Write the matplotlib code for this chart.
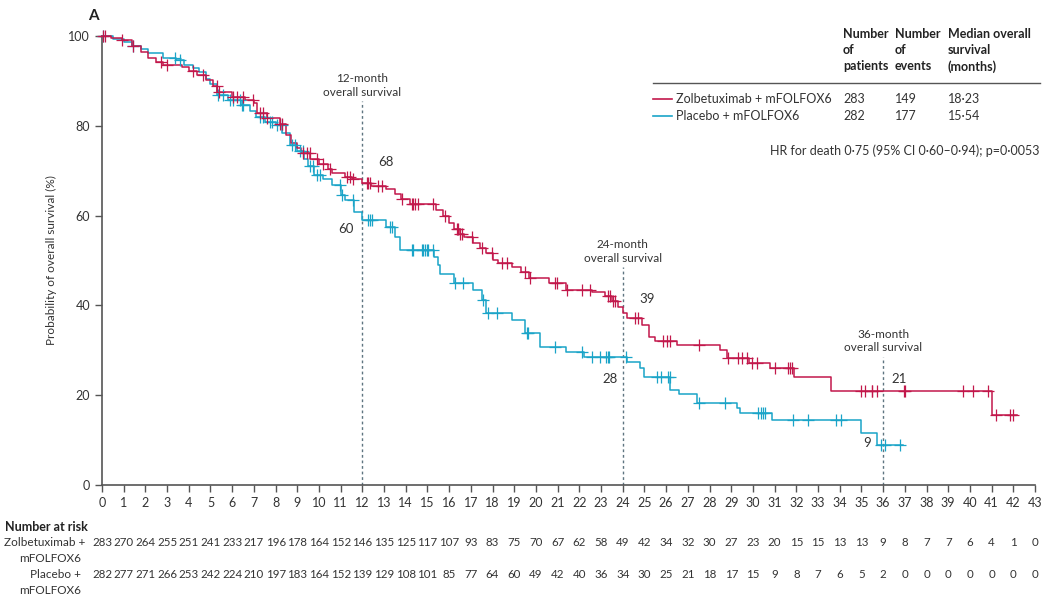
import numpy as np
import matplotlib
matplotlib.use("Agg")
import matplotlib.pyplot as plt
import matplotlib.transforms as mtransforms

plt.rcParams['font.family'] = ['Lato', 'DejaVu Sans']

RED = "#c2184b"
BLUE = "#1aa4c8"
GREY = "#555555"
TXT = "#333333"

# Zolbetuximab + mFOLFOX6 (step times in months, survival %)
zol_t = [0, 0.4, 0.9, 1.4, 1.8, 2.1, 2.5, 2.8, 3.7, 4.0, 4.4, 4.8, 5.1, 5.3, 6.0,
         6.6, 7.0, 7.15, 7.6, 8.2, 8.5, 8.7, 9.0, 9.15, 9.6, 10.0, 10.4, 10.6,
         11.2, 11.5, 12.0, 12.4, 13.1, 13.5, 13.8, 14.2, 15.4, 15.7, 16.0, 16.2,
         16.5, 16.7, 17.1, 17.4, 17.7, 18.0, 18.23, 18.9, 19.3, 19.7, 20.6, 21.4,
         22.6, 23.2, 23.5, 23.8, 24.0, 24.2, 24.9, 25.2, 25.5, 26.5, 28.5, 28.8,
         29.8, 30.8, 31.9, 33.6, 41.0]
zol_s = [100, 99.5, 99.0, 97.8, 96.5, 95.2, 94.2, 93.5, 93.0, 92.3, 91.3, 90.2,
         88.8, 87.6, 86.5, 85.7, 85.0, 82.8, 81.8, 80.5, 78.0, 76.1, 75.0, 73.9,
         72.6, 71.4, 70.3, 69.4, 68.6, 68.1, 67.3, 66.6, 66.0, 64.8, 63.8, 62.5,
         61.3, 59.8, 58.4, 57.1, 56.0, 55.2, 53.8, 52.8, 51.6, 50.1, 49.4, 48.6,
         47.5, 46.0, 44.9, 43.4, 43.0, 42.0, 41.0, 39.7, 38.2, 37.1, 35.6, 33.0,
         32.1, 31.2, 30.1, 28.2, 27.1, 26.0, 24.1, 21.0, 15.6]
zol_end = 42.15
zol_cens = [0.06, 0.14, 0.9, 1.44, 2.74, 2.98, 4.21, 4.67, 5.29, 5.37, 6.05, 6.2,
            6.5, 6.97, 7.28, 7.44, 7.6, 8.2, 8.28, 9.27, 9.43, 9.58, 9.89, 10.2,
            10.5, 11.27, 11.43, 11.58, 12.2, 12.27, 12.35, 12.73, 12.89, 13.81,
            14.27, 14.35, 14.42, 14.58, 15.27, 15.81, 16.34, 16.42, 16.5, 16.57,
            17.04, 17.5, 17.96, 18.42, 18.65, 19.49, 19.72, 20.88, 20.95, 21.41,
            22.1, 22.49, 23.33, 23.41, 23.56, 23.64, 24.56, 24.72, 25.87, 26.02,
            26.2, 27.51, 28.86, 29.32, 29.48, 29.71, 29.94, 30.17, 31.01, 31.63,
            31.71, 31.78, 34.98, 35.16, 35.47, 35.51, 35.73, 36.96, 37.0, 39.69,
            40.15, 40.82, 41.2, 41.84, 42.0]

# Placebo + mFOLFOX6
pla_t = [0, 0.5, 1.0, 1.4, 1.8, 2.1, 2.8, 3.4, 3.8, 4.2, 4.45, 4.8, 5.0, 5.3,
         5.8, 6.4, 6.8, 7.1, 7.5, 8.0, 8.3, 8.65, 9.0, 9.3, 9.5, 9.75, 10.2, 10.6,
         11.0, 11.2, 11.6, 12.0, 13.1, 13.5, 13.75, 15.3, 15.5, 15.6, 16.2, 17.1,
         17.5, 17.7, 18.9, 19.5, 20.2, 21.4, 22.2, 24.2, 24.8, 25.0, 26.2, 26.6,
         27.4, 29.25, 29.4, 30.9, 35.0, 35.7]
pla_s = [100, 99.3, 98.6, 97.8, 97.0, 96.3, 95.2, 94.6, 93.5, 92.8, 92.0, 90.5,
         89.4, 86.8, 85.8, 84.6, 83.2, 82.0, 80.8, 80.1, 78.5, 75.7, 74.3, 72.7,
         71.0, 69.0, 68.2, 66.8, 64.5, 63.5, 60.9, 59.0, 57.5, 55.3, 52.3, 50.8,
         49.0, 47.1, 44.9, 43.4, 41.2, 38.2, 36.7, 33.8, 30.8, 29.7, 28.6, 27.5,
         26.0, 24.0, 21.2, 20.2, 18.2, 17.1, 16.0, 14.5, 11.6, 8.9]
pla_end = 36.93
pla_cens = [0.06, 1.44, 3.36, 3.59, 5.36, 5.59, 5.9, 6.05, 6.36, 6.44, 6.51, 7.28,
            7.43, 7.74, 7.82, 8.05, 8.28, 8.74, 8.89, 9.12, 9.28, 9.59, 9.74,
            9.89, 10.05, 10.97, 11.04, 11.58, 12.27, 12.35, 12.43, 13.27, 13.35,
            14.27, 14.35, 14.73, 14.81, 14.88, 14.96, 15.04, 15.27, 16.27, 16.65,
            17.57, 17.8, 18.19, 19.57, 19.65, 20.88, 22.1, 22.57, 22.95, 23.23,
            23.33, 23.38, 24.15, 25.59, 25.76, 26.1, 26.18, 27.51, 28.71, 30.25,
            30.35, 30.45, 30.55, 31.83, 32.52, 33.82, 34.04, 35.9, 36.08, 36.77]

months = list(range(0, 44))
zol_risk = [283, 270, 264, 255, 251, 241, 233, 217, 196, 178, 164, 152, 146, 135,
            125, 117, 107, 93, 83, 75, 70, 67, 62, 58, 49, 42, 34, 32, 30, 27, 23,
            20, 15, 15, 13, 13, 9, 8, 7, 7, 6, 4, 1, 0]
pla_risk = [282, 277, 271, 266, 253, 242, 224, 210, 197, 183, 164, 152, 139, 129,
            108, 101, 85, 77, 64, 60, 49, 42, 40, 36, 34, 30, 25, 21, 18, 17, 15,
            9, 8, 7, 6, 5, 2, 0, 0, 0, 0, 0, 0, 0]

landmarks = [12, 24, 36]
landmark_top = [85.5, 48.5, 28.5]
zol_landmark = ["68", "39", "21"]
pla_landmark = ["60", "28", "9"]


def surv_at(t, s, x):
    idx = np.searchsorted(np.array(t), np.array(x), side='right') - 1
    return np.array(s)[idx]


def main():
    fig = plt.figure(figsize=(10.47, 6.02), dpi=100)
    ax = fig.add_axes([102 / 1047, 1 - 485 / 602, (1035 - 102) / 1047, 449 / 602])

    for t, s, end, cens, col in [(pla_t, pla_s, pla_end, pla_cens, BLUE),
                                 (zol_t, zol_s, zol_end, zol_cens, RED)]:
        tt = list(t) + [end]
        ss = list(s) + [s[-1]]
        ax.step(tt, ss, where='post', color=col, lw=1.1, clip_on=False, zorder=3)
        ax.plot(cens, surv_at(t, s, cens), ls='none', marker='+', ms=8, mew=0.9,
                color=col, clip_on=False, zorder=4)

    # landmark lines
    for i, m in enumerate(landmarks):
        ax.plot([m, m], [0, landmark_top[i]], ls=(0, (2, 2)), color="#5e7580", lw=1, zorder=2)
        ax.text(m, landmark_top[i] + 0.8, "%d-month\noverall survival" % m, ha='center',
                va='bottom', fontsize=8.5, color=TXT, linespacing=1.25)

    ax.text(12.75, 72, zol_landmark[0], fontsize=9.5, color=TXT, va='center')
    ax.text(11.6, 57, pla_landmark[0], fontsize=9.5, color=TXT, va='center', ha='right')
    ax.text(24.75, 41.5, zol_landmark[1], fontsize=9.5, color=TXT, va='center')
    ax.text(23.75, 23.5, pla_landmark[1], fontsize=9.5, color=TXT, va='center', ha='right')
    ax.text(36.4, 23.5, zol_landmark[2], fontsize=9.5, color=TXT, va='center')
    ax.text(35.45, 9.4, pla_landmark[2], fontsize=9.5, color=TXT, va='center', ha='right')

    ax.set_xlim(0, 43)
    ax.set_ylim(0, 100)
    ax.set_xticks(months)
    ax.set_yticks([0, 20, 40, 60, 80, 100])
    ax.tick_params(colors=GREY, labelcolor=TXT, labelsize=9, length=5, width=1)
    for side in ['top', 'right']:
        ax.spines[side].set_visible(False)
    for side in ['left', 'bottom']:
        ax.spines[side].set_color(GREY)
        ax.spines[side].set_linewidth(1.2)
    ax.set_ylabel("Probability of overall survival (%)", fontsize=8.5, color=TXT, labelpad=8)

    fig.text(88 / 1047, 1 - 16 / 602, "A", fontsize=11, fontweight='bold', va='center',
             color="#222222")

    # legend table
    fx = lambda px: px / 1047
    fy = lambda py: 1 - py / 602
    heads = ["Number\nof\npatients", "Number\nof\nevents", "Median overall\nsurvival\n(months)"]
    cols = [843, 895, 948]
    for h, c in zip(heads, cols):
        fig.text(fx(c), fy(28), h, fontsize=9, fontweight='bold', va='top', ha='left',
                 color="#222222", linespacing=1.4)
    fig.add_artist(plt.Line2D([fx(653), fx(1040)], [fy(83), fy(83)], color=GREY, lw=1))
    rows = [("Zolbetuximab + mFOLFOX6", RED, ["283", "149", "18·23"], 99),
            ("Placebo + mFOLFOX6", BLUE, ["282", "177", "15·54"], 116)]
    for name, col, vals, py in rows:
        fig.add_artist(plt.Line2D([fx(653), fx(672)], [fy(py), fy(py)], color=col, lw=1.2))
        fig.text(fx(676), fy(py), name, fontsize=9, va='center', color=TXT)
        for v, c in zip(vals, cols):
            fig.text(fx(c), fy(py), v, fontsize=9, va='center', color=TXT)
    fig.text(fx(1040), fy(151), "HR for death 0·75 (95% CI 0·60–0·94); p=0·0053",
             fontsize=9, va='center', ha='right', color=TXT)

    # number at risk
    trans = mtransforms.blended_transform_factory(ax.transData, fig.transFigure)
    fig.text(fx(5), fy(527), "Number at risk", fontsize=9, fontweight='bold',
             va='center', color="#222222")
    fig.text(fx(4), fy(543), "Zolbetuximab +", fontsize=8.5, va='center', ha='left', color=TXT)
    fig.text(fx(81), fy(559), "mFOLFOX6", fontsize=8.5, va='center', ha='right', color=TXT)
    fig.text(fx(81), fy(575), "Placebo +", fontsize=8.5, va='center', ha='right', color=TXT)
    fig.text(fx(81), fy(591), "mFOLFOX6", fontsize=8.5, va='center', ha='right', color=TXT)
    for m, a, b in zip(months, zol_risk, pla_risk):
        ax.text(m, fy(543), str(a), transform=trans, ha='center', va='center',
                fontsize=8.3, color=TXT)
        ax.text(m, fy(575), str(b), transform=trans, ha='center', va='center',
                fontsize=8.3, color=TXT)

    fig.savefig("out.png", dpi=100)


if __name__ == "__main__":
    main()
